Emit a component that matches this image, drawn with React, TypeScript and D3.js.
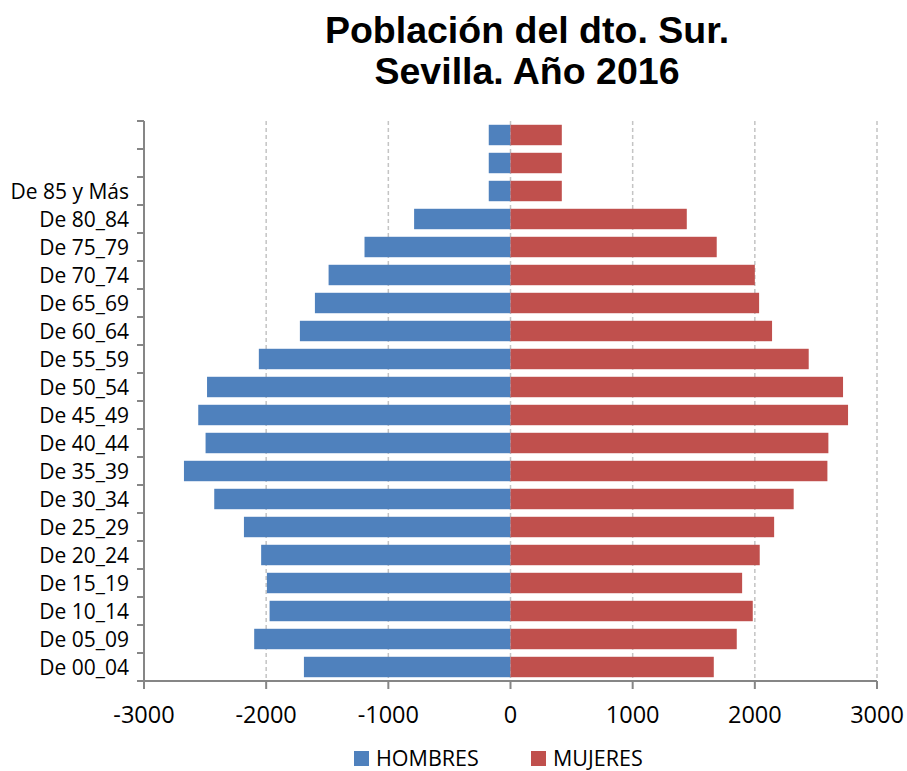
import React, { useEffect } from "react";
import * as d3 from "d3";

const categories = [
  "", "", "De 85 y Más", "De 80_84", "De 75_79", "De 70_74", "De 65_69", "De 60_64",
  "De 55_59", "De 50_54", "De 45_49", "De 40_44", "De 35_39", "De 30_34", "De 25_29",
  "De 20_24", "De 15_19", "De 10_14", "De 05_09", "De 00_04",
];
const hombres = [
  -178, -178, -178, -789, -1195, -1489, -1601, -1724, -2060, -2484, -2556, -2496, -2673,
  -2425, -2182, -2041, -1994, -1972, -2098, -1691,
];
const mujeres = [
  420, 420, 420, 1443, 1688, 2000, 2035, 2141, 2441, 2722, 2763, 2602, 2594, 2318, 2158,
  2040, 1896, 1983, 1852, 1664,
];
const xTicks = [-3000, -2000, -1000, 0, 1000, 2000, 3000];
const titleLines = ["Población del dto. Sur.", "Sevilla. Año 2016"];
const seriesNames = ["HOMBRES", "MUJERES"];
const colors = ["#4f81bd", "#c0504d"];

const W = 907;
const H = 771;
const left = 144;
const right = 877;
const top = 121;
const bottom = 681;

export default function App() {
  useEffect(() => {
    document.body.style.margin = "0";
  }, []);

  const x = d3.scaleLinear().domain([-3000, 3000]).range([left, right]);
  const idx = categories.map((_, i) => String(i));
  const y = d3.scaleBand<string>().domain(idx).range([top, bottom]).paddingInner(0.27).paddingOuter(0.135);
  const step = y.step();
  const boundaries = d3.range(categories.length + 1).map((i) => top + i * step);
  const axisColor = "#868686";
  const labelFont = "'Open Sans', sans-serif";

  return (
    <svg width={W} height={H} style={{ display: "block", background: "#fff" }}>
      {/* title */}
      {titleLines.map((t, i) => (
        <text
          key={i}
          x={527}
          y={43 + i * 41}
          textAnchor="middle"
          fontFamily="'Liberation Sans', Arial, sans-serif"
          fontWeight="bold"
          fontSize={37.5}
          fill="#000"
        >
          {t}
        </text>
      ))}

      {/* gridlines */}
      {xTicks.filter((t) => t !== -3000).map((t) => (
        <line
          key={t}
          x1={x(t)}
          x2={x(t)}
          y1={top}
          y2={bottom}
          stroke="#c4c4c4"
          strokeWidth={1.5}
          strokeDasharray="4,3"
        />
      ))}

      {/* bars */}
      {idx.map((k, i) => (
        <g key={k}>
          <rect
            x={x(hombres[i])}
            y={y(k)}
            width={x(0) - x(hombres[i])}
            height={y.bandwidth()}
            fill={colors[0]}
          />
          <rect
            x={x(0)}
            y={y(k)}
            width={x(mujeres[i]) - x(0)}
            height={y.bandwidth()}
            fill={colors[1]}
          />
        </g>
      ))}

      {/* y axis */}
      <line x1={left} x2={left} y1={top} y2={bottom} stroke={axisColor} strokeWidth={2} />
      {boundaries.map((b, i) => (
        <line key={i} x1={left - 7} x2={left} y1={b} y2={b} stroke={axisColor} strokeWidth={2} />
      ))}
      {categories.map((c, i) => (
        <text
          key={i}
          x={129}
          y={(y(String(i)) as number) + y.bandwidth() / 2 + 7.5}
          textAnchor="end"
          fontFamily={labelFont}
          fontSize={21}
          fill="#000"
        >
          {c}
        </text>
      ))}

      {/* x axis */}
      <line x1={left - 7} x2={right} y1={bottom} y2={bottom} stroke={axisColor} strokeWidth={2} />
      {xTicks.map((t) => (
        <g key={t}>
          <line x1={x(t)} x2={x(t)} y1={bottom} y2={bottom + 8} stroke={axisColor} strokeWidth={2} />
          <text
            x={x(t)}
            y={723}
            textAnchor="middle"
            fontFamily={labelFont}
            fontSize={23.5}
            fill="#000"
          >
            {String(t)}
          </text>
        </g>
      ))}

      {/* legend */}
      {seriesNames.map((s, i) => {
        const lx = i === 0 ? 354 : 531;
        return (
          <g key={s}>
            <rect x={lx} y={751} width={15} height={15} fill={colors[i]} />
            <text x={lx + 22} y={765.5} fontFamily={labelFont} fontSize={21.5} fill="#000">
              {s}
            </text>
          </g>
        );
      })}
    </svg>
  );
}
